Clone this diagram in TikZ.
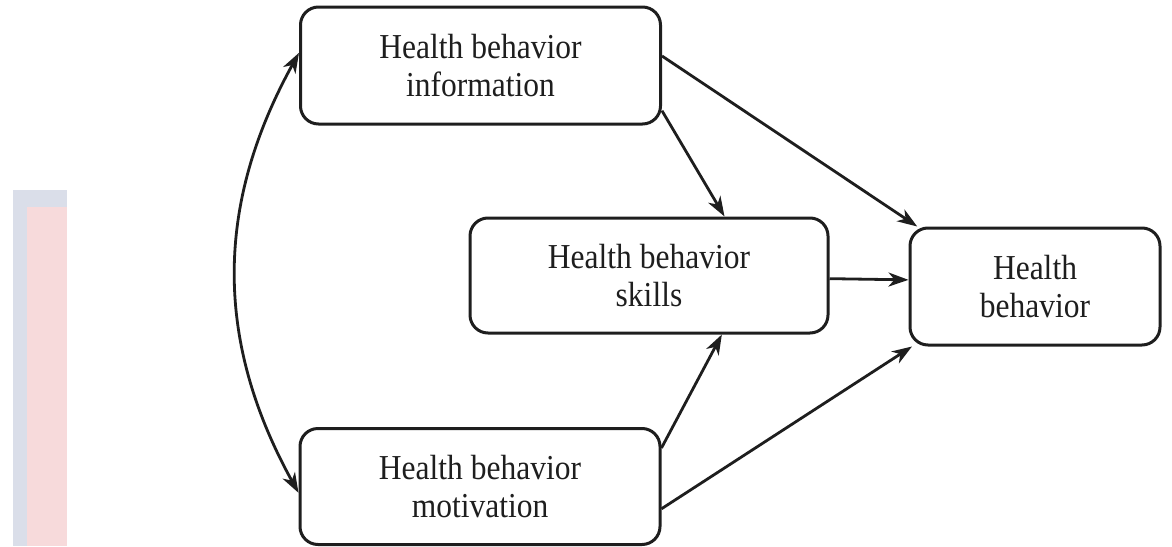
\documentclass[tikz,border=0pt]{standalone}
\usepackage{fontspec}
\setmainfont{Liberation Serif}[FakeStretch=0.9]
\usetikzlibrary{arrows.meta}
\definecolor{bgblue}{HTML}{DADEE9}
\definecolor{bgpink}{HTML}{F7DADB}
\definecolor{ink}{HTML}{1E1E1E}
\tikzset{
  box/.style={draw=ink, line width=3pt, rounded corners=18pt, align=center,
    text=ink, inner sep=0pt, font=\fontsize{35}{38}\selectfont},
  conn/.style={draw=ink, line width=2.8pt, -{Stealth[length=20pt, width=14pt, inset=6pt]}},
  biconn/.style={draw=ink, line width=2.8pt, {Stealth[length=20pt, width=14pt, inset=6pt]}-{Stealth[length=20pt, width=14pt, inset=6pt]}}
}
\begin{document}
\begin{tikzpicture}[x=1pt, y=-1pt]
\useasboundingbox (0,0) rectangle (1172,546);
\fill[bgblue] (13,190) rectangle (67,546);
\fill[bgpink] (27,207) rectangle (67,546);
\node[box, minimum width=360pt, minimum height=117pt] (info) at (480.5,65.5) {Health behavior\\information};
\node[box, minimum width=360pt, minimum height=116pt] (mot) at (480,486.5) {Health behavior\\motivation};
\node[box, minimum width=358pt, minimum height=115pt] (skills) at (649,275.5) {Health behavior\\skills};
\node[box, minimum width=250pt, minimum height=117pt] (hb) at (1035,286.5) {Health\\behavior};
\draw[conn] (info.-14.6) -- (skills.38.7);
\draw[conn] (info.3.3) -- (hb.153.2);
\draw[conn] (skills.-1.4) -- (hb.177);
\draw[conn] (mot.12) -- (skills.-39.2);
\draw[conn] (mot.-7.4) -- (hb.206.8);
\draw[biconn] (info.176.7) .. controls +(-84,152) and +(-84,-152) .. (mot.182.7);
\end{tikzpicture}
\end{document}
